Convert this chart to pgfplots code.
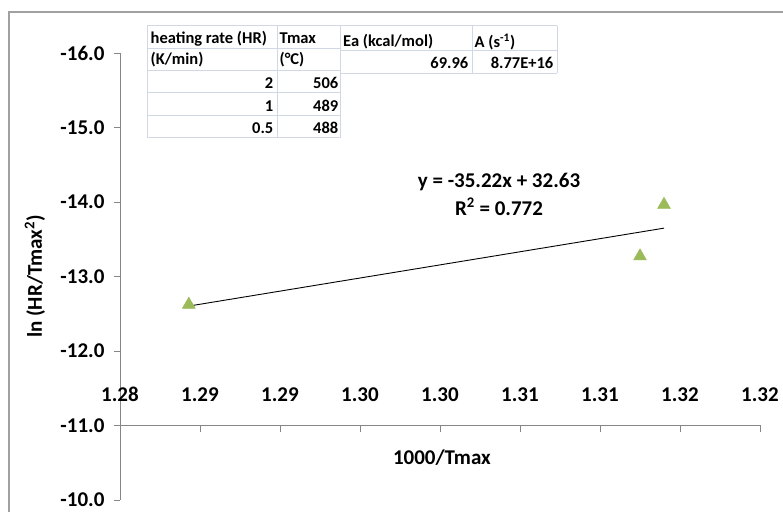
\documentclass[border=0pt]{standalone}
\usepackage{fontspec}
\setmainfont{Carlito}
\usepackage{pgfplots}
\pgfplotsset{compat=1.18}
\definecolor{axisgray}{HTML}{868686}
\definecolor{markgreen}{HTML}{9BBB59}
\definecolor{gridblue}{HTML}{D0D7E5}
\definecolor{framegray}{HTML}{A0A0A0}
\newcommand{\tickfont}{\fontsize{21}{25}\selectfont\bfseries}
\newcommand{\tabfont}{\fontsize{16.5}{19}\selectfont\bfseries}

\begin{document}
\begin{tikzpicture}[x=1pt,y=1pt]
% chart area frame
\draw[framegray, line width=1.2pt] (9,-512) -- (9,-12) -- (784,-12);

% y axis with the data
\begin{axis}[
  at={(440pt,-276.5pt)}, anchor=center,
  scale only axis, width=640pt, height=447pt,
  xmin=1.28, xmax=1.32, ymin=-16, ymax=-10,
  y dir=reverse,
  axis x line=none, axis y line=left,
  axis line style={-, draw=axisgray, line width=1pt},
  ytick={-16,-15,-14,-13,-12,-11,-10},
  tick align=outside, major tick length=6pt,
  tick style={axisgray, line width=1pt},
  y tick label style={/pgf/number format/fixed, /pgf/number format/fixed zerofill,
    /pgf/number format/precision=1, /pgf/number format/assume math mode=true,
    font=\tickfont, xshift=-6pt},
  ylabel={ln (HR/Tmax\textsuperscript{2})},
  ylabel style={font=\tickfont, at={(axis description cs:-0.133,0.5)}, anchor=center},
  clip=false,
]
\addplot[only marks, mark=triangle*, mark size=7.5pt,
  mark options={fill=markgreen, draw=markgreen}]
  coordinates {(1.2843,-12.623) (1.3125,-13.272) (1.3140,-13.963)};
% linear trend line y = -35.22x + 32.63
\addplot[black, line width=0.9pt] coordinates {(1.2843,-12.603) (1.3140,-13.649)};
\end{axis}

% x axis, drawn across y = -11
\begin{axis}[
  at={(440pt,-475pt)}, anchor=center,
  scale only axis, width=640pt, height=100pt,
  xmin=1.28, xmax=1.32, ymin=0, ymax=1,
  axis x line=top, axis y line=none,
  axis line style={-, draw=axisgray, line width=1pt},
  xtick={1.28,1.285,1.29,1.295,1.30,1.305,1.31,1.315,1.32},
  xticklabels={1.28,1.29,1.29,1.30,1.30,1.31,1.31,1.32,1.32},
  tick align=inside, major tick length=7pt,
  tick style={axisgray, line width=1pt},
  x tick label style={font=\tickfont, yshift=20pt},
  xlabel={1000/Tmax},
  xlabel style={font=\tickfont, at={(axis description cs:0.503,0.67)}, anchor=center},
]
\addplot[draw=none] coordinates {(1.30,0.5)};
\end{axis}

% kinetics table
\draw[gridblue, line width=1pt]
  (147,-26) -- (147,-137.5) (277,-26) -- (277,-137.5) (340,-26) -- (340,-137.5)
  (472,-26) -- (472,-73) (557,-26) -- (557,-73);
\foreach \yy in {-26,-48.5,-70,-92.5,-115,-137.5} \draw[gridblue, line width=1pt] (147,\yy) -- (340,\yy);
\foreach \yy in {-26,-50.5,-73} \draw[gridblue, line width=1pt] (340,\yy) -- (557,\yy);
\begin{scope}[every node/.style={inner sep=0pt, font=\tabfont}]
\node[anchor=west] at (150.5,-38.3) {heating rate (HR)};
\node[anchor=west] at (279.5,-38.3) {Tmax};
\node[anchor=west] at (150.5,-60) {(K/min)};
\node[anchor=west] at (279.5,-60) {(°C)};
\node[anchor=east] at (273.5,-83.3) {2};
\node[anchor=east] at (338.5,-83.3) {506};
\node[anchor=east] at (273.5,-106) {1};
\node[anchor=east] at (338.5,-106) {489};
\node[anchor=east] at (273.5,-127.7) {0.5};
\node[anchor=east] at (338.5,-127.7) {488};
\node[anchor=west] at (343,-41.7) {Ea (kcal/mol)};
\node[anchor=west] at (474.5,-41.7) {A (s\textsuperscript{-1})};
\node[anchor=east] at (468.5,-62.7) {69.96};
\node[anchor=east] at (553.5,-62.7) {8.77E+16};
\end{scope}

% trend line equation
\node[inner sep=0pt, font=\tickfont] at (499,-182) {y = -35.22x + 32.63};
\node[inner sep=0pt, font=\tickfont] at (499,-207) {R\textsuperscript{2} = 0.772};

\pgfresetboundingbox
\path[use as bounding box] (0,0) rectangle (783,-511);
\end{tikzpicture}
\end{document}
